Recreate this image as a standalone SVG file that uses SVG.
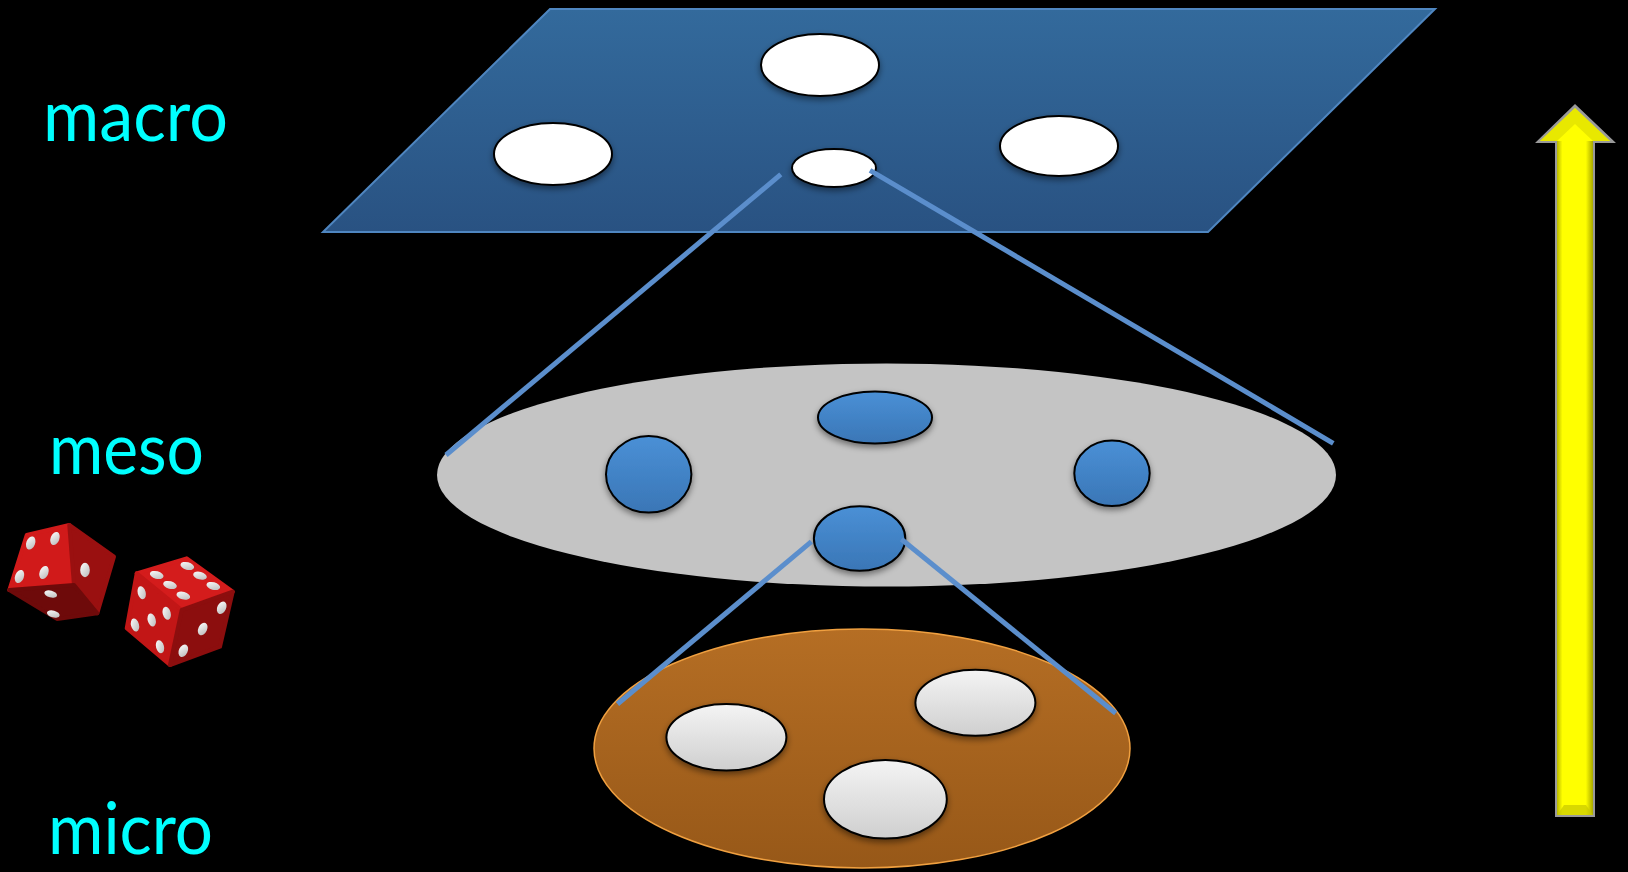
<svg xmlns="http://www.w3.org/2000/svg" width="1628" height="872" viewBox="0 0 1628 872">
  <style>
    .label { font-family: Lato, "Open Sans", sans-serif; font-size: 72px; fill: #00ffff; }
    .link { stroke: #5b8ecc; stroke-width: 5; fill: none; stroke-linecap: butt; }
    .white { fill: #ffffff; stroke: #000000; stroke-width: 2; filter: url(#shadow); }
    .blue { fill: url(#blueGrad); stroke: #000000; stroke-width: 2; filter: url(#shadow); }
    .pearl { fill: url(#pearlGrad); stroke: #000000; stroke-width: 2; filter: url(#shadow); }
    .pip { fill: url(#pipGrad); }
  </style>
  <defs>
    <linearGradient id="planeGrad" x1="0" y1="0" x2="0" y2="1">
      <stop offset="0" stop-color="#336a9c"/>
      <stop offset="1" stop-color="#295282"/>
    </linearGradient>
    <linearGradient id="blueGrad" x1="0" y1="0" x2="0" y2="1">
      <stop offset="0" stop-color="#4a90d6"/>
      <stop offset="1" stop-color="#3a76b6"/>
    </linearGradient>
    <linearGradient id="pearlGrad" x1="0" y1="0" x2="0" y2="1">
      <stop offset="0" stop-color="#f4f4f4"/>
      <stop offset="1" stop-color="#cfcfcf"/>
    </linearGradient>
    <linearGradient id="orangeGrad" x1="0" y1="0" x2="0" y2="1">
      <stop offset="0" stop-color="#b56e24"/>
      <stop offset="1" stop-color="#975818"/>
    </linearGradient>
    <linearGradient id="shaftGrad" x1="0" y1="0" x2="1" y2="0">
      <stop offset="0" stop-color="#b8b800"/>
      <stop offset="0.15" stop-color="#ffff00"/>
      <stop offset="0.8" stop-color="#ffff00"/>
      <stop offset="1" stop-color="#a8a800"/>
    </linearGradient>
    <linearGradient id="pipGrad" x1="0" y1="0" x2="1" y2="1">
      <stop offset="0" stop-color="#ffffff"/>
      <stop offset="1" stop-color="#b8b8b8"/>
    </linearGradient>
    <filter id="shadow" x="-20%" y="-20%" width="140%" height="150%">
      <feDropShadow dx="0" dy="3" stdDeviation="3" flood-color="#000000" flood-opacity="0.45"/>
    </filter>
  </defs>

  <rect width="1628" height="872" fill="#000000"/>

  <!-- level labels -->
  <g id="labels">
    <text class="label" x="43" y="141" textLength="185" lengthAdjust="spacingAndGlyphs">macro</text>
    <text class="label" x="49" y="474" textLength="155" lengthAdjust="spacingAndGlyphs">meso</text>
    <text class="label" x="48" y="854" textLength="165" lengthAdjust="spacingAndGlyphs">micro</text>
  </g>

  <!-- macro plane -->
  <g id="macro">
    <polygon points="550,9 1435,9 1208,232 323,232" fill="url(#planeGrad)" stroke="#4f86c0" stroke-width="2"/>
    <ellipse class="white" cx="820" cy="65" rx="59" ry="31"/>
    <ellipse class="white" cx="553" cy="154" rx="59" ry="31"/>
    <ellipse class="white" cx="1059" cy="146" rx="59" ry="30"/>
    <ellipse class="white" cx="834" cy="168" rx="42" ry="19"/>
  </g>

  <!-- meso disc -->
  <g id="meso">
    <ellipse cx="886.5" cy="475" rx="449.5" ry="111.5" fill="#c4c4c4"/>
    <ellipse class="blue" cx="875" cy="417.5" rx="57" ry="26"/>
    <ellipse class="blue" cx="648.7" cy="474.3" rx="42.7" ry="38.3"/>
    <ellipse class="blue" cx="1112" cy="473.3" rx="37.7" ry="32.7"/>
    <ellipse class="blue" cx="859.6" cy="538.5" rx="45.7" ry="32.3"/>
  </g>

  <!-- micro disc -->
  <g id="micro">
    <ellipse cx="862" cy="748.5" rx="268" ry="119.5" fill="url(#orangeGrad)" stroke="#f0a040" stroke-width="1.5"/>
    <ellipse class="pearl" cx="726.4" cy="737.3" rx="60" ry="33.3"/>
    <ellipse class="pearl" cx="975.4" cy="702.7" rx="60" ry="33"/>
    <ellipse class="pearl" cx="885.4" cy="799.3" rx="61.4" ry="39.3"/>
  </g>

  <!-- zoom-in connectors -->
  <g id="connectors">
    <line class="link" x1="780.8" y1="174.4" x2="446" y2="455"/>
    <line class="link" x1="870" y1="170.3" x2="1333.3" y2="443.3"/>
    <line class="link" x1="811.4" y1="541.7" x2="617.5" y2="704"/>
    <line class="link" x1="901.4" y1="539.3" x2="1115.7" y2="713.3"/>
  </g>

  <!-- upward arrow -->
  <g id="arrow">
    <polygon points="1575,104 1616,143 1595,143 1595,817 1555,817 1555,143 1535,143" fill="#9a9a9a"/>
    <rect x="1557" y="140" width="36" height="675" fill="url(#shaftGrad)"/>
    <polygon points="1575,108 1610,141 1540,141" fill="#ffff00"/>
    <polygon points="1575,108 1610,141 1593,141 1575,124 1557,141 1540,141" fill="#d8d800" opacity="0.6"/>
    <polygon points="1557,815 1593,815 1586,805 1564,805" fill="#c8c800" opacity="0.7"/>
  </g>

  <!-- dice -->
  <g id="die1" stroke-linejoin="round">
    <polygon points="26.7,535 69.3,525 74,585 9.3,590" fill="#d11a1a" stroke="#d11a1a" stroke-width="4"/>
    <polygon points="69.3,525 114,556.7 97.3,613.3 74,585" fill="#9a1010" stroke="#9a1010" stroke-width="4"/>
    <polygon points="9.3,590 74,585 97.3,613.3 57.3,619" fill="#6e0a0a" stroke="#6e0a0a" stroke-width="4"/>
    <ellipse class="pip" cx="30.7" cy="543" rx="4.4" ry="6.8" transform="rotate(20 30.7 543)"/>
    <ellipse class="pip" cx="55" cy="538.5" rx="4.4" ry="6.8" transform="rotate(20 55 538.5)"/>
    <ellipse class="pip" cx="19.5" cy="576.5" rx="4.4" ry="6.8" transform="rotate(20 19.5 576.5)"/>
    <ellipse class="pip" cx="44" cy="572.5" rx="4.4" ry="6.8" transform="rotate(20 44 572.5)"/>
    <ellipse class="pip" cx="85" cy="570" rx="4.8" ry="7.2"/>
    <ellipse class="pip" cx="50.7" cy="594" rx="6.5" ry="3.4" transform="rotate(15 50.7 594)"/>
    <ellipse class="pip" cx="53.3" cy="614" rx="6.5" ry="3.4" transform="rotate(15 53.3 614)"/>
  </g>
  <g id="die2" stroke-linejoin="round">
    <polygon points="136.7,573.3 186.7,558.3 232.7,591.7 181.7,610" fill="#d41c1c" stroke="#d41c1c" stroke-width="4"/>
    <polygon points="136.7,573.3 181.7,610 170,665 126.7,628.3" fill="#c21616" stroke="#c21616" stroke-width="4"/>
    <polygon points="181.7,610 232.7,591.7 220,646.7 170,665" fill="#8c0e0e" stroke="#8c0e0e" stroke-width="4"/>
    <ellipse class="pip" cx="156.7" cy="575" rx="7" ry="3.8" transform="rotate(15 156.7 575)"/>
    <ellipse class="pip" cx="187.3" cy="566" rx="7" ry="3.8" transform="rotate(15 187.3 566)"/>
    <ellipse class="pip" cx="170" cy="585" rx="7" ry="3.8" transform="rotate(15 170 585)"/>
    <ellipse class="pip" cx="200" cy="575.7" rx="7" ry="3.8" transform="rotate(15 200 575.7)"/>
    <ellipse class="pip" cx="183.3" cy="595.7" rx="7" ry="3.8" transform="rotate(15 183.3 595.7)"/>
    <ellipse class="pip" cx="213.3" cy="586" rx="7" ry="3.8" transform="rotate(15 213.3 586)"/>
    <ellipse class="pip" cx="141.7" cy="592.7" rx="4" ry="6.6" transform="rotate(-15 141.7 592.7)"/>
    <ellipse class="pip" cx="166.7" cy="613.3" rx="4" ry="6.6" transform="rotate(-15 166.7 613.3)"/>
    <ellipse class="pip" cx="151.7" cy="620" rx="4" ry="6.6" transform="rotate(-15 151.7 620)"/>
    <ellipse class="pip" cx="135" cy="625" rx="4" ry="6.6" transform="rotate(-15 135 625)"/>
    <ellipse class="pip" cx="160" cy="646.7" rx="4" ry="6.6" transform="rotate(-15 160 646.7)"/>
    <ellipse class="pip" cx="221.7" cy="607.7" rx="4.4" ry="6.6" transform="rotate(25 221.7 607.7)"/>
    <ellipse class="pip" cx="202.7" cy="629" rx="4.4" ry="6.6" transform="rotate(25 202.7 629)"/>
    <ellipse class="pip" cx="183.3" cy="650.7" rx="4.4" ry="6.6" transform="rotate(25 183.3 650.7)"/>
  </g>
</svg>
